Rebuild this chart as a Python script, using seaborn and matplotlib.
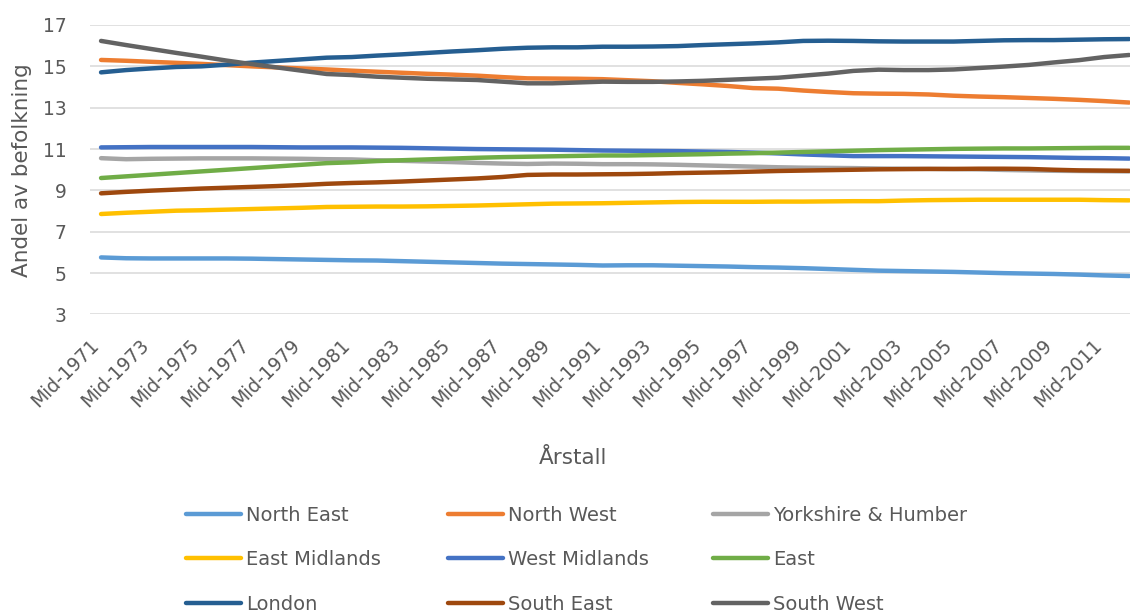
import numpy as np
import pandas as pd
import matplotlib
matplotlib.use("Agg")
import matplotlib.pyplot as plt
from matplotlib.transforms import ScaledTranslation
import seaborn as sns

years = list(range(1971, 2013))
tick_labels = [f"Mid-{y}" for y in years]

north_east = [5.76, 5.72, 5.71, 5.71, 5.71, 5.71, 5.70, 5.68, 5.66, 5.64,
              5.62, 5.61, 5.58, 5.55, 5.52, 5.49, 5.46, 5.44, 5.42, 5.40,
              5.37, 5.38, 5.38, 5.36, 5.34, 5.32, 5.29, 5.27, 5.24, 5.20,
              5.16, 5.12, 5.10, 5.08, 5.06, 5.03, 5.00, 4.98, 4.96, 4.93,
              4.89, 4.86]
north_west = [15.31, 15.27, 15.22, 15.17, 15.12, 15.06, 15.00, 14.95, 14.90, 14.85,
              14.79, 14.74, 14.69, 14.64, 14.60, 14.55, 14.48, 14.42, 14.41, 14.40,
              14.38, 14.33, 14.28, 14.20, 14.13, 14.05, 13.95, 13.92, 13.83, 13.76,
              13.70, 13.68, 13.67, 13.64, 13.58, 13.54, 13.51, 13.47, 13.43, 13.38,
              13.32, 13.25]
yorkshire = [10.56, 10.51, 10.53, 10.54, 10.55, 10.55, 10.55, 10.54, 10.53, 10.51,
             10.50, 10.46, 10.43, 10.40, 10.37, 10.33, 10.30, 10.28, 10.30, 10.29,
             10.27, 10.27, 10.26, 10.24, 10.21, 10.18, 10.15, 10.12, 10.10, 10.09,
             10.08, 10.06, 10.05, 10.04, 10.03, 10.02, 9.99, 9.97, 9.95, 9.94,
             9.93, 9.92]
east_midlands = [7.86, 7.92, 7.97, 8.02, 8.04, 8.07, 8.10, 8.13, 8.16, 8.20,
                 8.21, 8.22, 8.22, 8.23, 8.25, 8.27, 8.30, 8.33, 8.36, 8.37,
                 8.38, 8.40, 8.42, 8.44, 8.45, 8.45, 8.45, 8.46, 8.46, 8.47,
                 8.48, 8.48, 8.51, 8.53, 8.54, 8.55, 8.55, 8.55, 8.55, 8.55,
                 8.53, 8.52]
west_midlands = [11.08, 11.09, 11.10, 11.10, 11.10, 11.10, 11.10, 11.09, 11.08, 11.08,
                 11.08, 11.07, 11.06, 11.04, 11.02, 11.00, 10.99, 10.98, 10.97, 10.95,
                 10.93, 10.92, 10.91, 10.90, 10.88, 10.86, 10.83, 10.79, 10.74, 10.70,
                 10.66, 10.66, 10.66, 10.65, 10.64, 10.63, 10.62, 10.61, 10.59, 10.57,
                 10.56, 10.54]
east = [9.60, 9.68, 9.76, 9.84, 9.92, 10.00, 10.08, 10.16, 10.24, 10.32,
        10.36, 10.42, 10.46, 10.50, 10.54, 10.58, 10.61, 10.63, 10.65, 10.67,
        10.69, 10.69, 10.71, 10.73, 10.75, 10.78, 10.80, 10.83, 10.86, 10.89,
        10.92, 10.95, 10.97, 10.99, 11.01, 11.02, 11.03, 11.03, 11.04, 11.05,
        11.06, 11.06]
london = [14.71, 14.82, 14.90, 14.97, 15.00, 15.08, 15.18, 15.26, 15.34, 15.42,
          15.45, 15.52, 15.58, 15.65, 15.72, 15.78, 15.85, 15.90, 15.92, 15.92,
          15.95, 15.95, 15.96, 15.98, 16.03, 16.07, 16.11, 16.16, 16.23, 16.24,
          16.23, 16.21, 16.20, 16.20, 16.20, 16.23, 16.26, 16.27, 16.27, 16.29,
          16.31, 16.32]
south_east = [8.86, 8.93, 8.99, 9.04, 9.09, 9.13, 9.17, 9.21, 9.26, 9.32,
              9.36, 9.39, 9.43, 9.48, 9.53, 9.58, 9.65, 9.75, 9.77, 9.77,
              9.78, 9.79, 9.81, 9.84, 9.86, 9.88, 9.91, 9.94, 9.96, 9.98,
              10.00, 10.02, 10.03, 10.04, 10.04, 10.05, 10.05, 10.04, 10.00, 9.97,
              9.96, 9.95]
south_west = [16.23, 16.03, 15.84, 15.65, 15.47, 15.28, 15.11, 14.95, 14.79, 14.63,
              14.58, 14.50, 14.45, 14.40, 14.37, 14.34, 14.26, 14.18, 14.18, 14.22,
              14.26, 14.25, 14.25, 14.27, 14.30, 14.35, 14.40, 14.45, 14.55, 14.65,
              14.78, 14.84, 14.82, 14.82, 14.85, 14.92, 14.99, 15.07, 15.19, 15.30,
              15.45, 15.55]

regions = ["North East", "North West", "Yorkshire & Humber", "East Midlands",
           "West Midlands", "East", "London", "South East", "South West"]
series = [north_east, north_west, yorkshire, east_midlands, west_midlands,
          east, london, south_east, south_west]
colors = ["#5B9BD5", "#ED7D31", "#A5A5A5", "#FFC000", "#4472C4",
          "#70AD47", "#255E91", "#9E480E", "#636363"]

rows = []
for name, vals in zip(regions, series):
    for i, v in enumerate(vals):
        rows.append({"idx": i, "value": v, "region": name})
df = pd.DataFrame(rows)

sns.set_style("white")
plt.rcParams["font.family"] = ["DejaVu Sans"]

W, H = 1130, 612
fig = plt.figure(figsize=(W / 100, H / 100), dpi=100)
ax = fig.add_axes([90 / W, 1 - 314.5 / H, (W - 90) / W, 289.5 / H])

sns.lineplot(data=df, x="idx", y="value", hue="region", hue_order=regions,
             palette=dict(zip(regions, colors)), linewidth=3.2,
             estimator=None, sort=False, legend=False, ax=ax,
             solid_capstyle="round")

ax.set_ylim(3, 17)
ax.set_yticks(np.arange(3, 18, 2))
ax.set_xlim(-0.44, 41.03)
ax.set_xticks(range(0, len(years), 2))
ax.set_xticklabels(tick_labels[::2], rotation=45, ha="right",
                   rotation_mode="anchor", va="center")
ax.tick_params(axis="y", length=0, pad=17, labelsize=13.5, labelcolor="#595959")
ax.tick_params(axis="x", length=0, pad=20, labelsize=13.5, labelcolor="#595959")
shift = ScaledTranslation(-5 / 100, 0, fig.dpi_scale_trans)
for lab in ax.get_xticklabels():
    lab.set_transform(lab.get_transform() + shift)
ax.grid(axis="y", color="#D9D9D9", linewidth=1.1)
ax.grid(axis="x", visible=False)
ax.set_axisbelow(True)
for s in ax.spines.values():
    s.set_visible(False)
ax.set_xlabel("")
ax.set_ylabel("")

fig.text(21.6 / W, 1 - 170 / H, "Andel av befolkning", rotation=90,
         ha="center", va="center", fontsize=15.5, color="#595959")
fig.text(573 / W, 1 - 458 / H, "Årstall", ha="center", va="center",
         fontsize=15.5, color="#595959")

lines = dict(zip(regions, ax.get_lines()))
cols = [["North East", "East Midlands", "London"],
        ["North West", "West Midlands", "South East"],
        ["Yorkshire & Humber", "East", "South West"]]
xs = [186, 448, 713]
for col, x in zip(cols, xs):
    fig.legend([lines[n] for n in col], col, loc="upper left",
               bbox_to_anchor=(x / W, 1 - 506 / H), frameon=False,
               borderpad=0, borderaxespad=0, handlelength=2.85,
               handletextpad=0.25, labelspacing=1.30, fontsize=14,
               labelcolor="#595959")

fig.savefig("out.png", dpi=100)
